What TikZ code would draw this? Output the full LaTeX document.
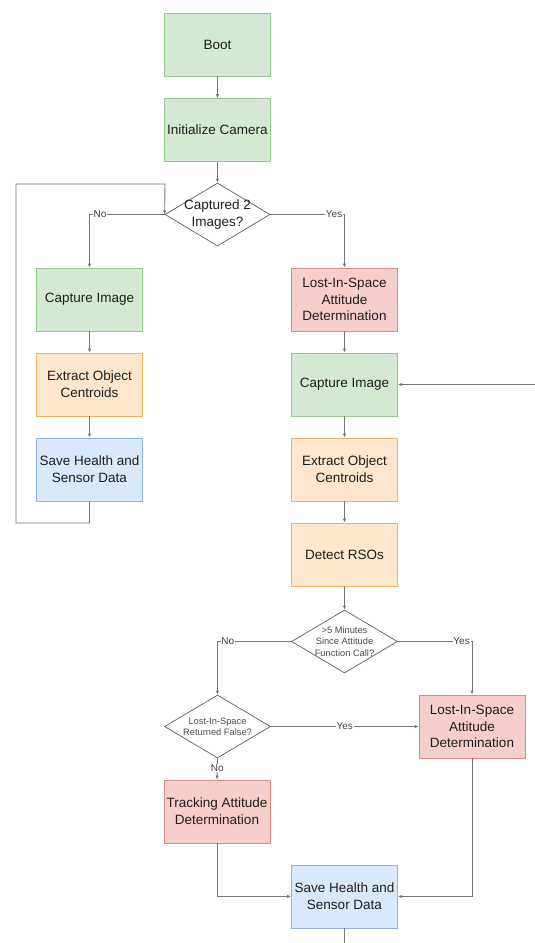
\documentclass[tikz,border=0pt]{standalone}
\usepackage{fontspec}
\setmainfont{Liberation Sans}
\usetikzlibrary{arrows.meta,shapes.geometric}
\definecolor{gfill}{HTML}{D5E8D4}
\definecolor{gdraw}{HTML}{97C88F}
\definecolor{ofill}{HTML}{FFE6CC}
\definecolor{odraw}{HTML}{E8B866}
\definecolor{rfill}{HTML}{F8CECC}
\definecolor{rdraw}{HTML}{D98A86}
\definecolor{bfill}{HTML}{DAE8FC}
\definecolor{bdraw}{HTML}{94B3DD}
\definecolor{edgecol}{HTML}{777777}
\definecolor{txt}{HTML}{1E1E1E}
\begin{document}
\begin{tikzpicture}[x=1pt,y=-1pt,
  box/.style={draw, minimum width=106pt, minimum height=63pt, inner sep=0pt, align=center,
    text=txt, font=\fontsize{13.5}{16.8}\selectfont, line width=0.7pt},
  green/.style={box, fill=gfill, draw=gdraw},
  orange/.style={box, fill=ofill, draw=odraw},
  red/.style={box, fill=rfill, draw=rdraw},
  blue/.style={box, fill=bfill, draw=bdraw},
  dia/.style={draw=edgecol!80!black, fill=white, diamond, minimum width=105pt, minimum height=63pt, inner sep=0pt, line width=0.7pt},
  bigt/.style={align=center, text=txt, font=\fontsize{13.5}{16.8}\selectfont, inner sep=0pt},
  smallt/.style={align=center, text=txt!80, font=\fontsize{9.3}{11.2}\selectfont, inner sep=0pt},
  edge/.style={draw=edgecol, line width=0.9pt, -{Latex[length=4pt,width=3.4pt]}},
  plain/.style={draw=edgecol, line width=0.9pt},
  lbl/.style={fill=white, text=txt!85, font=\fontsize{10}{12}\selectfont, inner sep=0.8pt}
]
\useasboundingbox (0,0) rectangle (535,943);

% nodes
\node[green] (boot) at (217.5,44.5) {Boot};
\node[green] (init) at (217.5,130) {Initialize Camera};
\node[dia] (d1) at (217.5,214.5) {};
\node[bigt] (d1t) at (d1) {Captured 2\\Images?};

\node[green] (cap1) at (89.5,299.5) {Capture Image};
\node[orange] (ext1) at (89.5,384.5) {Extract Object\\Centroids};
\node[blue] (save1) at (89.5,469.5) {Save Health and\\Sensor Data};

\node[red] (lis1) at (344.5,299.5) {Lost-In-Space\\Attitude\\Determination};
\node[green] (cap2) at (344.5,384.5) {Capture Image};
\node[orange] (ext2) at (344.5,469.5) {Extract Object\\Centroids};
\node[orange] (det) at (344.5,554.5) {Detect RSOs};

\node[dia, minimum width=106pt] (d2) at (344.5,641.5) {};
\node[smallt] (d2t) at (d2) {>5 Minutes\\Since Attitude\\Function Call?};

\node[dia, minimum width=106pt] (d3) at (217.5,726.5) {};
\node[smallt] (d3t) at (d3) {Lost-In-Space\\Returned False?};

\node[red] (lis2) at (472,726.5) {Lost-In-Space\\Attitude\\Determination};
\node[red] (track) at (217,811.5) {Tracking Attitude\\Determination};
\node[blue] (save2) at (344.5,896.5) {Save Health and\\Sensor Data};

% free-end coordinates
\coordinate (l1) at (16,523);
\coordinate (l2) at (16,184);
\coordinate (l3) at (165,184);
\coordinate (rin) at (535,384.5);
\coordinate (bot) at (344.5,943);

% connectors
\draw[edge] (boot) -- (init);
\draw[edge] (init) -- (d1.north);
\draw[edge] (d1.west) -| node[lbl, pos=0.43] {No} (cap1.north);
\draw[edge] (d1.east) -| node[lbl, pos=0.43] {Yes} (lis1.north);
\draw[edge] (cap1) -- (ext1);
\draw[edge] (ext1) -- (save1);
\draw[edge] (save1.south) |- (l1) -- (l2) -- (l3) -- (d1.west);

\draw[edge] (lis1) -- (cap2);
\draw[edge] (rin) -- (cap2.east);
\draw[edge] (cap2) -- (ext2);
\draw[edge] (ext2) -- (det);
\draw[edge] (det) -- (d2.north);
\draw[edge] (d2.west) -| node[lbl, pos=0.43] {No} (d3.north);
\draw[edge] (d2.east) -| node[lbl, pos=0.43] {Yes} (lis2.north);
\draw[edge] (d3.east) -- node[lbl, pos=0.5] {Yes} (lis2.west);
\draw[edge] (d3.south) -- node[lbl, pos=0.45] {No} (track.north);
\draw[edge] (track.south) |- (save2.west);
\draw[edge] (lis2.south) |- (save2.east);
\draw[plain] (save2.south) -- (bot);
\end{tikzpicture}
\end{document}
